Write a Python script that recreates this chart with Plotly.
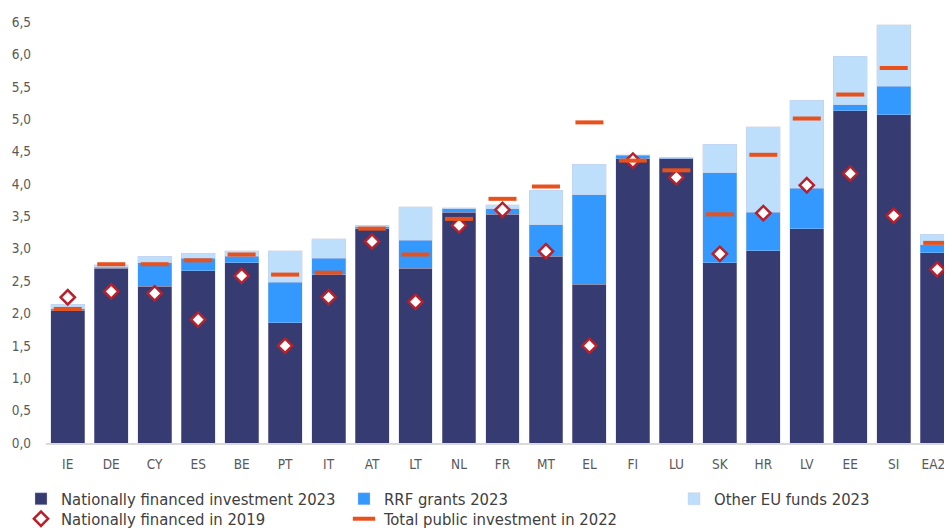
import plotly.graph_objects as go

countries = ["IE", "DE", "CY", "ES", "BE", "PT", "IT", "AT", "LT", "NL", "FR",
             "MT", "EL", "FI", "LU", "SK", "HR", "LV", "EE", "SI", "EA20"]
national_2023 = [2.05, 2.70, 2.42, 2.66, 2.785, 1.86, 2.60, 3.31, 2.70, 3.56, 3.53,
                 2.88, 2.45, 4.39, 4.385, 2.785, 2.97, 3.31, 5.13, 5.07, 2.94]
rrf_2023 = [0.025, 0.01, 0.365, 0.19, 0.095, 0.62, 0.25, 0.03, 0.43, 0.06, 0.09,
            0.49, 1.385, 0.05, 0.01, 1.39, 0.59, 0.62, 0.09, 0.44, 0.12]
other_eu_2023 = [0.065, 0.04, 0.095, 0.08, 0.09, 0.49, 0.30, 0.02, 0.52, 0.01, 0.06,
                 0.53, 0.465, 0.01, 0.02, 0.435, 1.325, 1.36, 0.75, 0.95, 0.16]
national_2019 = [2.25, 2.34, 2.31, 1.905, 2.58, 1.50, 2.25, 3.11, 2.18, 3.36, 3.60,
                 2.96, 1.50, 4.36, 4.10, 2.92, 3.55, 3.98, 4.16, 3.51, 2.68]
total_2022 = [2.07, 2.76, 2.76, 2.82, 2.91, 2.60, 2.63, 3.31, 2.91, 3.46, 3.77,
              3.96, 4.95, 4.36, 4.21, 3.53, 4.45, 5.01, 5.38, 5.79, 3.09]
y_ticks = [0, 0.5, 1.0, 1.5, 2.0, 2.5, 3.0, 3.5, 4.0, 4.5, 5.0, 5.5, 6.0, 6.5]

FONT = "DejaVu Sans Condensed, Liberation Sans, sans-serif"
edge = dict(color="rgba(200,200,225,0.6)", width=0.6)

fig = go.Figure()
fig.add_trace(go.Bar(x=countries, y=national_2023, name="Nationally financed investment 2023",
                     marker=dict(color="#363b72", line=edge), legend="legend"))
fig.add_trace(go.Bar(x=countries, y=rrf_2023, name="RRF grants 2023",
                     marker=dict(color="#3399ff", line=edge), legend="legend2"))
fig.add_trace(go.Bar(x=countries, y=other_eu_2023, name="Other EU funds 2023",
                     marker=dict(color="#bddffb", line=edge), legend="legend3"))
fig.add_trace(go.Scatter(x=countries, y=national_2019, name="Nationally financed in 2019",
                         mode="markers",
                         marker=dict(symbol="diamond", size=11, color="white",
                                     line=dict(color="#b8202c", width=2.5)),
                         legend="legend4"))
fig.add_trace(go.Scatter(x=countries, y=total_2022, name="Total public investment in 2022",
                         mode="markers",
                         marker=dict(symbol="line-ew", size=20,
                                     line=dict(color="#e8501c", width=4)),
                         legend="legend5"))

# the page body has an 8px margin, so the figure is drawn 8px right and down
W, H = 944, 520
PLOT_L, PLOT_T, PLOT_B = 38, 14, 435
PLOT_W, PLOT_H = W - PLOT_L, PLOT_B - PLOT_T


def lx(text_px_page):
    # paper-x of a legend whose label text starts near text_px_page (page coords)
    left_fig = text_px_page - 43
    return (left_fig - PLOT_L) / PLOT_W


def ly(center_px_page):
    return (PLOT_B - (center_px_page - 8)) / PLOT_H


leg_font = dict(family=FONT, size=16.5, color="#404040")
row1, row2 = ly(499), ly(519)
common = dict(orientation="h", xanchor="left", yanchor="middle", font=leg_font,
              bgcolor="rgba(0,0,0,0)", itemclick=False, itemdoubleclick=False)

fig.update_layout(
    width=W, height=H,
    margin=dict(l=PLOT_L, r=0, t=PLOT_T, b=H - PLOT_B, autoexpand=False),
    barmode="stack", bargap=0.22,
    plot_bgcolor="white", paper_bgcolor="white",
    font=dict(family=FONT, size=14, color="#595959"),
    showlegend=True,
    legend=dict(x=lx(56), y=row1, **common),
    legend2=dict(x=lx(379), y=row1, **common),
    legend3=dict(x=lx(709), y=row1, **common),
    legend4=dict(x=lx(56), y=row2, **common),
    legend5=dict(x=lx(379), y=row2, **common),
)
fig.update_xaxes(range=[-0.5, 20.34], showline=True, linecolor="#d9d9d9", linewidth=1.5,
                 showgrid=False, ticks="", ticklabelstandoff=8, automargin=False,
                 tickfont=dict(size=13.5, color="#595959"))
fig.update_yaxes(range=[0, 6.5], tickvals=y_ticks,
                 ticktext=[f"{v:.1f}".replace(".", ",") for v in y_ticks],
                 showgrid=False, zeroline=False, showline=False, ticks="",
                 ticklabelstandoff=14, automargin=False,
                 tickfont=dict(size=13.5, color="#595959"))

fig.write_html("out.html")
